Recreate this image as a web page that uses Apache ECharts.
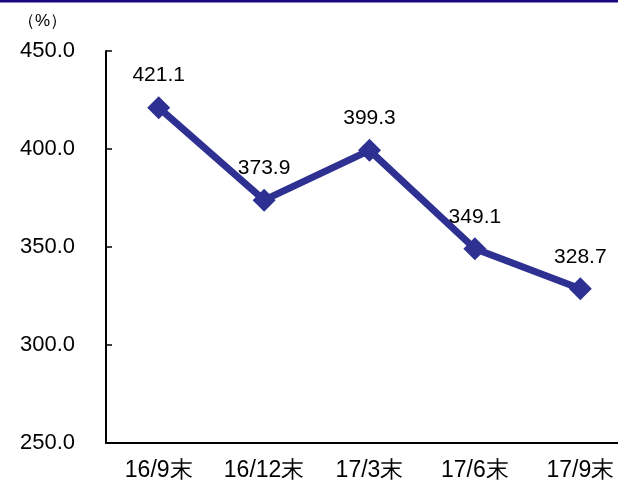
<!DOCTYPE html>
<html>
<head>
<meta charset="utf-8">
<script src="https://cdn.jsdelivr.net/npm/echarts@6/dist/echarts.min.js"></script>
<style>
html,body{margin:0;padding:0;background:#fff;overflow:hidden;width:618px;height:484px;}
#c{width:640px;height:484px;}
</style>
</head>
<body>
<div id="c"></div>
<script>
var categories = ['16/9末', '16/12末', '17/3末', '17/6末', '17/9末'];
var values = [421.1, 373.9, 399.3, 349.1, 328.7];
var yMin = 250, yMax = 450, yStep = 50;

var chart = echarts.init(document.getElementById('c'), null, {renderer: 'canvas'});
var font = '"Liberation Sans", Arial, sans-serif';
chart.setOption({
  animation: false,
  backgroundColor: '#fff',
  title: {
    text: '（%）', left: 13, top: 8,
    textStyle: {fontSize: 17, fontWeight: 'normal', color: '#000', fontFamily: font}
  },
  graphic: [{
    type: 'rect', left: 0, top: 0,
    shape: {width: 640, height: 2.5},
    style: {fill: '#1a0a80'}
  }],
  grid: {left: 106, top: 51, width: 527, bottom: 41, containLabel: false},
  xAxis: {
    type: 'category',
    data: categories,
    boundaryGap: true,
    axisLine: {lineStyle: {color: '#000', width: 2}},
    axisTick: {inside: true, length: 6, lineStyle: {color: '#000', width: 1.5}},
    axisLabel: {fontSize: 23, color: '#000', fontFamily: font, margin: 16},
    splitLine: {show: false}
  },
  yAxis: {
    type: 'value',
    min: yMin, max: yMax, interval: yStep,
    axisLine: {show: true, lineStyle: {color: '#000', width: 2}},
    axisTick: {show: true, inside: true, length: 6, lineStyle: {color: '#000', width: 1.5}},
    axisLabel: {fontSize: 22, color: '#000', fontFamily: font, margin: 31,
      formatter: function (v) { return v.toFixed(1); }},
    splitLine: {show: false}
  },
  series: [{
    type: 'line',
    data: values,
    symbol: 'diamond',
    symbolSize: 23,
    itemStyle: {color: '#2E3192'},
    lineStyle: {color: '#2E3192', width: 7},
    label: {
      show: true, position: 'top', distance: 10,
      fontSize: 21, color: '#000', fontFamily: font,
      formatter: function (p) { return p.value.toFixed(1); }
    }
  }]
});
</script>
</body>
</html>
